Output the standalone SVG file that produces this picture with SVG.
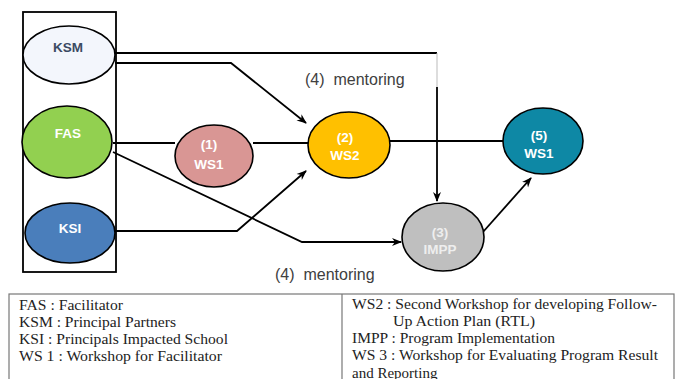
<svg xmlns="http://www.w3.org/2000/svg" width="680" height="379" viewBox="0 0 680 379">
<defs>
<marker id="ah" markerWidth="10" markerHeight="10" refX="9" refY="5" orient="auto" markerUnits="userSpaceOnUse">
<path d="M0,1 L10,5 L0,9 L3,5 Z" fill="#000"/>
</marker>
<style>
.node{stroke:#000;stroke-width:1.6}
.lbl{font-family:"Liberation Sans",Arial,sans-serif;font-weight:bold;font-size:13.5px;text-anchor:middle;fill:#fff}
.con{fill:none;stroke:#000;stroke-width:1.8}
.ment{font-family:"Liberation Sans",Arial,sans-serif;font-size:16px;fill:#404040}
.leg{font-family:"Liberation Serif","Times New Roman",serif;font-size:15px;fill:#222}
</style>
</defs>
<rect width="680" height="379" fill="#fff"/>
<rect x="23" y="12" width="93" height="260" fill="none" stroke="#000" stroke-width="1.8"/>
<g id="connectors">
<path class="con" d="M115,53 H437"/>
<path d="M437,53 V87" fill="none" stroke="#bbb" stroke-width="1"/>
<path class="con" d="M437,87 V201" marker-end="url(#ah)"/>
<path class="con" d="M115,63 H231 L306,123" marker-end="url(#ah)"/>
<path class="con" d="M113,143 H175"/>
<path class="con" d="M253,143 H308"/>
<path class="con" d="M389,141 H503"/>
<path class="con" d="M113,152 L302,242 H401" marker-end="url(#ah)"/>
<path class="con" d="M115,231 H237 L306,171" marker-end="url(#ah)"/>
<path class="con" d="M483,232 L531,178" marker-end="url(#ah)"/>
</g>
<g id="KSM"><ellipse class="node" cx="69" cy="55" rx="46" ry="29" fill="#f3f6fc"/><text class="lbl" x="68" y="52" style="fill:#3b4a63">KSM</text></g>
<g id="FAS"><ellipse class="node" cx="67" cy="142" rx="45" ry="36" fill="#92d050"/><text class="lbl" x="68" y="138">FAS</text></g>
<g id="KSI"><ellipse class="node" cx="70" cy="233" rx="45" ry="30" fill="#4a7ebb"/><text class="lbl" x="70" y="233">KSI</text></g>
<g id="WS1a"><ellipse class="node" cx="214" cy="156" rx="39" ry="31" fill="#d99694"/><text class="lbl" x="209" y="149">(1)</text><text class="lbl" x="209" y="169">WS1</text></g>
<g id="WS2"><ellipse class="node" cx="349" cy="145" rx="41" ry="33" fill="#ffc000"/><text class="lbl" x="345" y="142">(2)</text><text class="lbl" x="345" y="160">WS2</text></g>
<g id="WS5"><ellipse class="node" cx="543" cy="141" rx="40" ry="33" fill="#0e88a5"/><text class="lbl" x="539" y="140">(5)</text><text class="lbl" x="539" y="158">WS1</text></g>
<g id="IMPP"><ellipse class="node" cx="443" cy="237" rx="41" ry="34" fill="#bfbfbf"/><text class="lbl" x="440" y="237" style="fill:#eee">(3)</text><text class="lbl" x="440" y="254" style="fill:#eee">IMPP</text></g>
<text class="ment" x="305" y="85" xml:space="preserve">(4)  mentoring</text>
<text class="ment" x="275" y="280" xml:space="preserve">(4)  mentoring</text>
<g id="legend">
<rect x="9" y="294" width="665" height="100" fill="none" stroke="#777" stroke-width="1.2"/>
<line x1="342" y1="294" x2="342" y2="379" stroke="#777" stroke-width="1.2"/>
<text class="leg" x="19" y="310" textLength="104" lengthAdjust="spacingAndGlyphs">FAS : Facilitator</text>
<text class="leg" x="19" y="327" textLength="157" lengthAdjust="spacingAndGlyphs">KSM : Principal Partners</text>
<text class="leg" x="19" y="344" textLength="209" lengthAdjust="spacingAndGlyphs">KSI : Principals Impacted School</text>
<text class="leg" x="19" y="361" textLength="203" lengthAdjust="spacingAndGlyphs">WS 1 : Workshop for Facilitator</text>
<text class="leg" x="352" y="309" textLength="305" lengthAdjust="spacingAndGlyphs">WS2 : Second Workshop for developing Follow-</text>
<text class="leg" x="393" y="326" textLength="142" lengthAdjust="spacingAndGlyphs">Up Action Plan (RTL)</text>
<text class="leg" x="352" y="343" textLength="203" lengthAdjust="spacingAndGlyphs">IMPP : Program Implementation</text>
<text class="leg" x="352" y="360" textLength="306" lengthAdjust="spacingAndGlyphs">WS 3 : Workshop for Evaluating Program Result</text>
<text class="leg" x="352" y="378">and Reporting</text>
</g>
</svg>
